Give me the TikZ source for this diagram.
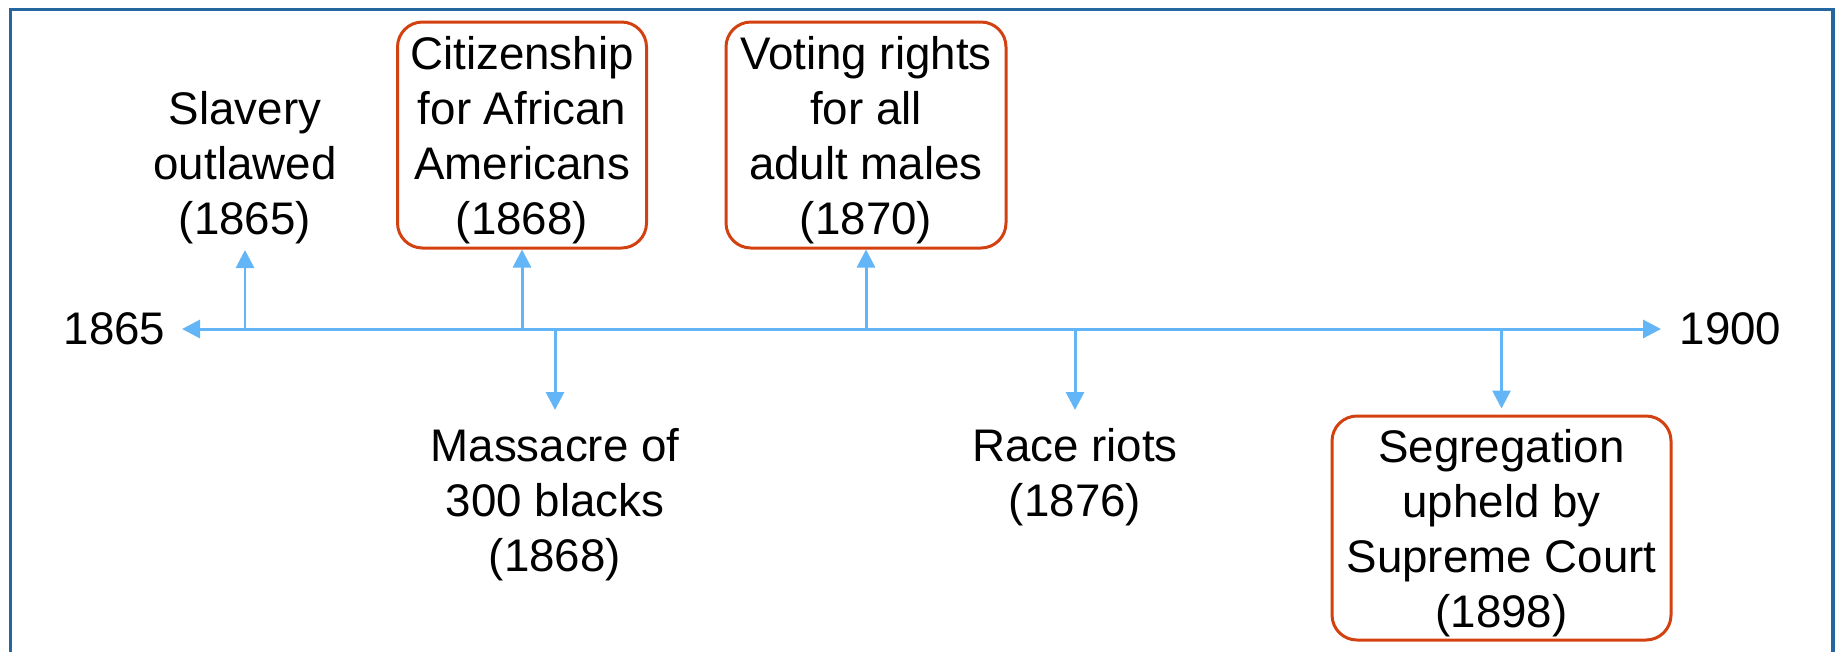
\documentclass[tikz,border=0pt]{standalone}
\usepackage{fontspec}
\setmainfont{Liberation Sans}
\usetikzlibrary{arrows.meta}

\definecolor{frameblue}{RGB}{37,102,160}
\definecolor{lineblue}{RGB}{98,181,247}
\definecolor{boxred}{RGB}{210,65,15}

\begin{document}
\begin{tikzpicture}[every node/.style={font=\fontsize{13pt}{15.65pt}\selectfont},
  event/.style={align=center, inner sep=0.05cm},
  eventbox/.style={align=center, draw=boxred, line width=0.85pt, rounded corners=0.25cm,
                   inner xsep=0.02cm, inner ysep=0pt, text depth=0pt, minimum height=2.26cm},
  evarrow/.style={draw=lineblue, line width=0.85pt, -{Triangle[length=0.18cm,width=0.18cm]}}]

\useasboundingbox (0,0) rectangle (18.37,6.51);
\draw[frameblue, line width=1pt] (0.105,-0.2) -- (0.105,6.415) -- (18.33,6.415) -- (18.33,-0.2);

% time line
\node[anchor=east, inner sep=0.16cm] (start) at (1.82,3.22) {1865};
\node[anchor=west, inner sep=0.18cm] (end) at (16.61,3.22) {1900};
\draw[evarrow, {Triangle[length=0.18cm,width=0.18cm]}-{Triangle[length=0.18cm,width=0.18cm]}]
      (start) -- (end);

% events above
\node[event, anchor=south] (slavery) at (2.45,4.01) {Slavery\\outlawed\\(1865)};
\node[eventbox, minimum width=2.49cm] (citizen) at (5.22,5.16)
      {Citizenship\\for African\\Americans\\(1868)};
\node[eventbox, minimum width=2.80cm] (voting) at (8.66,5.16)
      {Voting rights\\for all\\adult males\\(1870)};

% events below
\node[event, anchor=north, inner sep=0.18cm] (massacre) at (5.55,2.41) {Massacre of\\300 blacks\\(1868)};
\node[event, anchor=north, inner sep=0.18cm] (riots) at (10.75,2.41) {Race riots\\(1876)};
\node[eventbox, minimum width=3.39cm, minimum height=2.24cm] (segregation) at (15.015,1.23)
      {Segregation\\upheld by\\Supreme Court\\(1898)};

\draw[evarrow] (slavery |- start) -- (slavery);
\draw[evarrow] (citizen |- start) -- (citizen);
\draw[evarrow] (voting |- start) -- (voting);
\draw[evarrow] (massacre |- start) -- (massacre);
\draw[evarrow] (riots |- start) -- (riots);
\draw[evarrow, shorten >=0.06cm] (segregation |- start) -- (segregation);
\end{tikzpicture}
\end{document}
